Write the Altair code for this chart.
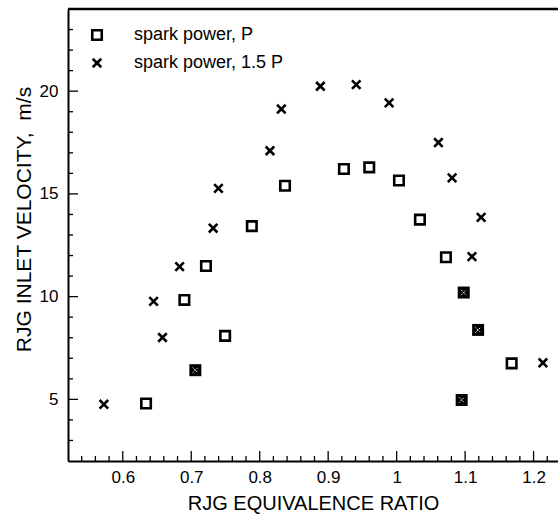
import altair as alt
import pandas as pd

# ---- data ----
p_ratio = [0.634, 0.690, 0.7215, 0.7495, 0.7885, 0.837, 0.923, 0.960, 1.0034, 1.034, 1.072, 1.168]
p_vel = [4.80, 9.84, 11.49, 8.09, 13.43, 15.40, 16.21, 16.29, 15.65, 13.75, 11.92, 6.75]

marked_ratio = [0.706, 1.098, 1.119, 1.095]
marked_vel = [6.42, 10.20, 8.38, 4.97]

p15_ratio = [0.5724, 0.645, 0.658, 0.683, 0.732, 0.7397, 0.815, 0.8316, 0.8886, 0.941, 0.989,
             1.061, 1.081, 1.1234, 1.110, 1.2137]
p15_vel = [4.76, 9.77, 8.01, 11.46, 13.33, 15.27, 17.10, 19.13, 20.24, 20.32, 19.43,
           17.50, 15.78, 13.86, 11.95, 6.78]

series_names = ["spark power, P", "spark power, 1.5 P"]

x_major = [0.6, 0.7, 0.8, 0.9, 1.0, 1.1, 1.2]
x_minor = [0.54, 0.56, 0.58, 0.62, 0.64, 0.66, 0.68, 0.72, 0.74, 0.76, 0.78,
           0.82, 0.84, 0.86, 0.88, 0.92, 0.94, 0.96, 0.98, 1.02, 1.04, 1.06, 1.08,
           1.12, 1.14, 1.16, 1.18, 1.22]
y_major = [5, 10, 15, 20]
y_minor = [3, 4, 6, 7, 8, 9, 11, 12, 13, 14, 16, 17, 18, 19, 21, 22, 23]

# ---- layout / style ----
W, H = 490, 452
FONT = "Liberation Sans"
X_DOMAIN = [0.52, 1.2357]
Y_DOMAIN = [2, 24]

xs = alt.Scale(domain=X_DOMAIN, nice=False, zero=False)
ys = alt.Scale(domain=Y_DOMAIN, nice=False, zero=False)

main = pd.DataFrame({
    "ratio": p_ratio + p15_ratio,
    "vel": p_vel + p15_vel,
    "series": [series_names[0]] * len(p_ratio) + [series_names[1]] * len(p15_ratio),
})
marked = pd.DataFrame({"ratio": marked_ratio, "vel": marked_vel})

CROSS = "M-0.9,-0.9L0.9,0.9M-0.9,0.9L0.9,-0.9"
SMALL_X = "M-0.45,-0.45L0.45,0.45M-0.45,0.45L0.45,-0.45"

x_axis = alt.Axis(values=x_major, format="~g", ticks=False, grid=False,
                  domainColor="black", domainWidth=2, labelFontSize=17,
                  labelPadding=8, labelColor="black", title="RJG EQUIVALENCE RATIO",
                  titleFontSize=20, titleFontWeight="normal", titleColor="black",
                  titlePadding=8, labelFont=FONT, titleFont=FONT)
y_axis = alt.Axis(values=y_major, ticks=False, grid=False,
                  domainColor="black", domainWidth=2, labelFontSize=17,
                  labelPadding=10, labelColor="black",
                  title="RJG INLET VELOCITY,\u00a0\u00a0m/s",
                  titleFontSize=21, titleFontWeight="normal", titleColor="black",
                  titlePadding=5, titleY=210, labelFont=FONT, titleFont=FONT)

points = alt.Chart(main).mark_point(filled=False, color="black", strokeWidth=2.6, size=90, opacity=1).encode(
    x=alt.X("ratio:Q", scale=xs, axis=x_axis),
    y=alt.Y("vel:Q", scale=ys, axis=y_axis),
    shape=alt.Shape("series:N",
                    scale=alt.Scale(domain=series_names, range=["square", CROSS]),
                    legend=alt.Legend(title=None, orient="none", legendX=20, legendY=17,
                                      labelFontSize=18, labelFont=FONT, labelColor="black",
                                      labelOffset=28, rowPadding=8, padding=0,
                                      symbolSize=90, symbolStrokeWidth=2.6,
                                      symbolStrokeColor="black", symbolFillColor="transparent")),
)

marked_sq = alt.Chart(marked).mark_square(filled=True, color="black", size=144, opacity=1).encode(
    x=alt.X("ratio:Q", scale=xs),
    y=alt.Y("vel:Q", scale=ys),
)
marked_x = alt.Chart(marked).mark_point(shape=SMALL_X, filled=False, stroke="white",
                                       strokeWidth=1, strokeDash=[1.5, 1], size=144, opacity=1).encode(
    x=alt.X("ratio:Q", scale=xs),
    y=alt.Y("vel:Q", scale=ys),
)

def yticks(vals, length):
    return alt.Chart(pd.DataFrame({"v": vals})).mark_rule(color="black", strokeWidth=1.3).encode(
        y=alt.Y("v:Q", scale=ys), x=alt.value(0), x2=alt.value(length))

def xticks(vals, length):
    return alt.Chart(pd.DataFrame({"v": vals})).mark_rule(color="black", strokeWidth=1.3).encode(
        x=alt.X("v:Q", scale=xs), y=alt.value(H), y2=alt.value(H - length))

top_border = alt.Chart(pd.DataFrame({"v": [Y_DOMAIN[1]]})).mark_rule(color="black", strokeWidth=2.5).encode(
    y=alt.Y("v:Q", scale=ys), x=alt.value(0), x2=alt.value(W))

chart = alt.layer(
    yticks(y_major, 10), yticks(y_minor, 5),
    xticks(x_major, 10), xticks(x_minor, 5),
    top_border,
    points, marked_sq, marked_x,
).properties(
    width=W, height=H,
    autosize=alt.AutoSizeParams(type="none"),
    padding={"left": 68, "top": 9, "right": 0, "bottom": 60},
    background="white",
).configure_view(stroke=None)

chart.save("out.html", embed_options={"renderer": "svg", "actions": False})
